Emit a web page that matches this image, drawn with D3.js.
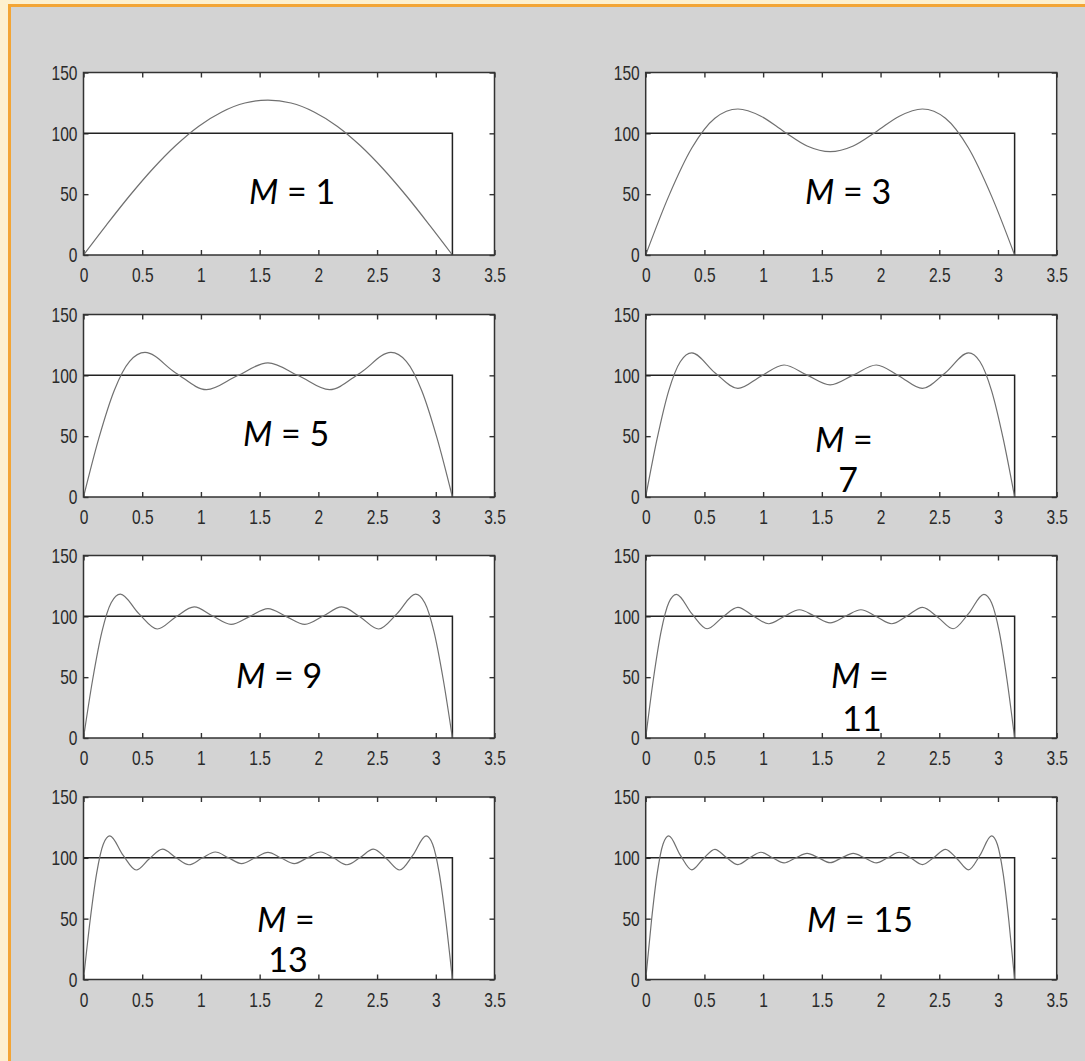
<!DOCTYPE html>
<html><head><meta charset="utf-8">
<script src="https://cdn.jsdelivr.net/npm/d3@7"></script>
<style>
html,body{margin:0;padding:0;background:#fdf0cf;}
svg{display:block;}
.tick text{font-family:"Liberation Sans Narrow","Liberation Sans",Arial,sans-serif;font-size:21px;fill:#2a2a2a;}
.lbl{font-family:Lato,"Open Sans",sans-serif;font-size:34px;fill:#000;}
</style></head>
<body>
<script>
// ---- data ----
const panelLabels = [["M", " = 1"], ["M", " = 3"], ["M", " = 5"], ["M", " =", "7"], ["M", " = 9"], ["M", " =", "11"], ["M", " =", "13"], ["M", " = 15"]];
const xTicks = [0, 0.5, 1, 1.5, 2, 2.5, 3, 3.5];
const xTickLabels = ["0", "0.5", "1", "1.5", "2", "2.5", "3", "3.5"];
const yTicks = [0, 50, 100, 150];
const yTickLabels = ["0", "50", "100", "150"];
const squareX = [0, 3.1416, 3.1416];
const squareY = [100, 100, 0];

const curveM1 = [[0,0],[0.1963,24.8],[0.3927,48.7],[0.5890,70.7],[0.7854,90.0],[0.9817,105.9],[1.1781,117.6],[1.3744,124.9],[1.5708,127.3],[1.7671,124.9],[1.9635,117.6],[2.1598,105.9],[2.3562,90.0],[2.5525,70.7],[2.7489,48.7],[2.9452,24.8],[3.1416,0]];
const curveM3 = [[0,0],[0.1963,48.4],[0.3927,87.9],[0.5890,112.4],[0.7854,120.0],[0.9817,114.1],[1.1781,101.4],[1.3744,89.6],[1.5708,84.9],[1.7671,89.6],[1.9635,101.4],[2.1598,114.1],[2.3562,120.0],[2.5525,112.4],[2.7489,87.9],[2.9452,48.4],[3.1416,0]];
const curveM5 = [[0,0],[0.1309,48.4],[0.2618,87.6],[0.3927,111.5],[0.5236,118.8],[0.7854,102.0],[1.0472,88.2],[1.3090,99.6],[1.5708,110.3],[1.8326,99.6],[2.0944,88.2],[2.3562,102.0],[2.6180,118.8],[2.7489,111.5],[2.8798,87.6],[3.0107,48.4],[3.1416,0]];
const curveM7 = [[0,0],[0.0982,48.3],[0.1963,87.4],[0.2945,111.2],[0.3927,118.4],[0.5890,102.2],[0.7854,89.2],[0.9817,99.3],[1.1781,108.5],[1.3744,100.2],[1.5708,92.2],[1.7671,100.2],[1.9635,108.5],[2.1598,99.3],[2.3562,89.2],[2.5525,102.2],[2.7489,118.4],[2.8471,111.2],[2.9452,87.4],[3.0434,48.3],[3.1416,0]];
const curveM9 = [[0,0],[0.0785,48.3],[0.1571,87.4],[0.2356,111.2],[0.3142,118.2],[0.4712,102.2],[0.6283,89.6],[0.7854,99.4],[0.9425,107.7],[1.0996,100.3],[1.2566,93.4],[1.4137,99.8],[1.5708,106.3],[1.7279,99.8],[1.8850,93.4],[2.0420,100.3],[2.1991,107.7],[2.3562,99.4],[2.5133,89.6],[2.6704,102.2],[2.8274,118.2],[2.9060,111.2],[2.9845,87.4],[3.0631,48.3],[3.1416,0]];
const curveM11 = [[0,0],[0.0654,48.3],[0.1309,87.4],[0.1963,111.2],[0.2618,118.1],[0.3927,102.2],[0.5236,89.8],[0.6545,99.3],[0.7854,107.4],[0.9163,100.3],[1.0472,93.9],[1.1781,99.8],[1.3090,105.4],[1.4399,100.1],[1.5708,94.7],[1.7017,100.1],[1.8326,105.4],[1.9635,99.8],[2.0944,93.9],[2.2253,100.3],[2.3562,107.4],[2.4871,99.3],[2.6180,89.8],[2.7489,102.2],[2.8798,118.1],[2.9452,111.2],[3.0107,87.4],[3.0761,48.3],[3.1416,0]];
const curveM13 = [[0,0],[0.0561,48.3],[0.1122,87.4],[0.1683,111.2],[0.2244,118.0],[0.3366,102.2],[0.4488,90.0],[0.5610,99.3],[0.6732,107.1],[0.7854,100.3],[0.8976,94.3],[1.0098,99.8],[1.1220,104.8],[1.2342,100.1],[1.3464,95.3],[1.4586,99.9],[1.5708,104.5],[1.6830,99.9],[1.7952,95.3],[1.9074,100.1],[2.0196,104.8],[2.1318,99.8],[2.2440,94.3],[2.3562,100.3],[2.4684,107.1],[2.5806,99.3],[2.6928,90.0],[2.8050,102.2],[2.9172,118.0],[2.9733,111.2],[3.0294,87.4],[3.0855,48.3],[3.1416,0]];
const curveM15 = [[0,0],[0.0491,48.3],[0.0982,87.4],[0.1473,111.2],[0.1963,118.0],[0.2945,102.2],[0.3927,90.1],[0.4909,99.3],[0.5890,107.0],[0.6872,100.3],[0.7854,94.5],[0.8836,99.8],[0.9817,104.6],[1.0799,100.1],[1.1781,95.8],[1.2763,99.9],[1.3744,103.6],[1.4726,100.0],[1.5708,96.0],[1.6690,100.0],[1.7671,103.6],[1.8653,99.9],[1.9635,95.8],[2.0617,100.1],[2.1598,104.6],[2.2580,99.8],[2.3562,94.5],[2.4544,100.3],[2.5525,107.0],[2.6507,99.3],[2.7489,90.1],[2.8471,102.2],[2.9452,118.0],[2.9943,111.2],[3.0434,87.4],[3.0925,48.3],[3.1416,0]];
const curves = [curveM1, curveM3, curveM5, curveM7, curveM9, curveM11, curveM13, curveM15];

// ---- layout ----
const W = 1085, H = 1061;
const colLeft = [83.5, 645.7], plotW = 411;
const rowTop = [72.5, 314.5, 555.5, 797], plotH = 182.5;
const labelPos = [[249, 204], [805, 204], [243, 446], [815, 452], [236, 688], [831, 688], [257, 932], [807, 932]];
const secondLinePos = [null, null, null, [848, 492], null, [862, 731], [288, 972], null];

const svg = d3.select("body").append("svg").attr("width", W).attr("height", H);
svg.append("rect").attr("x", 0).attr("y", 0).attr("width", W).attr("height", H).attr("fill", "#fdf0cf");
svg.append("rect").attr("x", 8).attr("y", 4).attr("width", W - 8).attr("height", H - 4).attr("fill", "#f3a535");
svg.append("rect").attr("x", 11).attr("y", 7).attr("width", W - 11).attr("height", H - 7).attr("fill", "#d3d3d3");

curves.forEach((data, i) => {
  const c = i % 2, r = Math.floor(i / 2);
  const x0 = colLeft[c], y0 = rowTop[r];
  const x = d3.scaleLinear().domain([0, 3.5]).range([x0, x0 + plotW]);
  const y = d3.scaleLinear().domain([0, 150]).range([y0 + plotH, y0]);
  const g = svg.append("g");
  g.append("rect").attr("x", x0).attr("y", y0).attr("width", plotW).attr("height", plotH).attr("fill", "#fff");

  // axes with inward ticks
  const ax = [
    g.append("g").attr("transform", `translate(0,${y0 + plotH})`).call(d3.axisBottom(x).tickValues(xTicks).tickSize(-5).tickPadding(12.5).tickFormat((d, k) => xTickLabels[k])),
    g.append("g").attr("transform", `translate(0,${y0})`).call(d3.axisTop(x).tickValues(xTicks).tickSize(-5).tickFormat("")),
    g.append("g").attr("transform", `translate(${x0},0)`).call(d3.axisLeft(y).tickValues(yTicks).tickSize(-5).tickPadding(6).tickFormat((d, k) => yTickLabels[k])),
    g.append("g").attr("transform", `translate(${x0 + plotW},0)`).call(d3.axisRight(y).tickValues(yTicks).tickSize(-5).tickFormat(""))
  ];
  ax.forEach(a => {
    a.select(".domain").remove();
    a.selectAll(".tick line").attr("stroke", "#333").attr("stroke-width", 1.4);
    a.selectAll(".tick text").each(function () {
      const len = this.getComputedTextLength();
      if (len > 0) d3.select(this).attr("textLength", len * 0.74).attr("lengthAdjust", "spacingAndGlyphs");
    });
  });

  // square pulse
  const sq = squareX.map((v, k) => [v, squareY[k]]);
  g.append("path").datum(sq)
    .attr("d", d3.line().x(d => x(d[0])).y(d => y(d[1])))
    .attr("fill", "none").attr("stroke", "#222").attr("stroke-width", 1.5);

  // partial sum curve
  g.append("path").datum(data)
    .attr("d", d3.line().x(d => x(d[0])).y(d => y(d[1])).curve(d3.curveMonotoneX))
    .attr("fill", "none").attr("stroke", "#707070").attr("stroke-width", 1.2);

  // box
  g.append("rect").attr("x", x0).attr("y", y0).attr("width", plotW).attr("height", plotH)
    .attr("fill", "none").attr("stroke", "#333").attr("stroke-width", 1.5);

  // label
  const lab = panelLabels[i];
  const t = svg.append("text").attr("class", "lbl").attr("x", labelPos[i][0]).attr("y", labelPos[i][1]);
  t.append("tspan").attr("font-style", "italic").text(lab[0]);
  t.append("tspan").text(lab[1]);
  if (lab[2]) {
    svg.append("text").attr("class", "lbl").attr("x", secondLinePos[i][0]).attr("y", secondLinePos[i][1])
      .attr("text-anchor", "middle").text(lab[2]);
  }
});
</script>
</body></html>
